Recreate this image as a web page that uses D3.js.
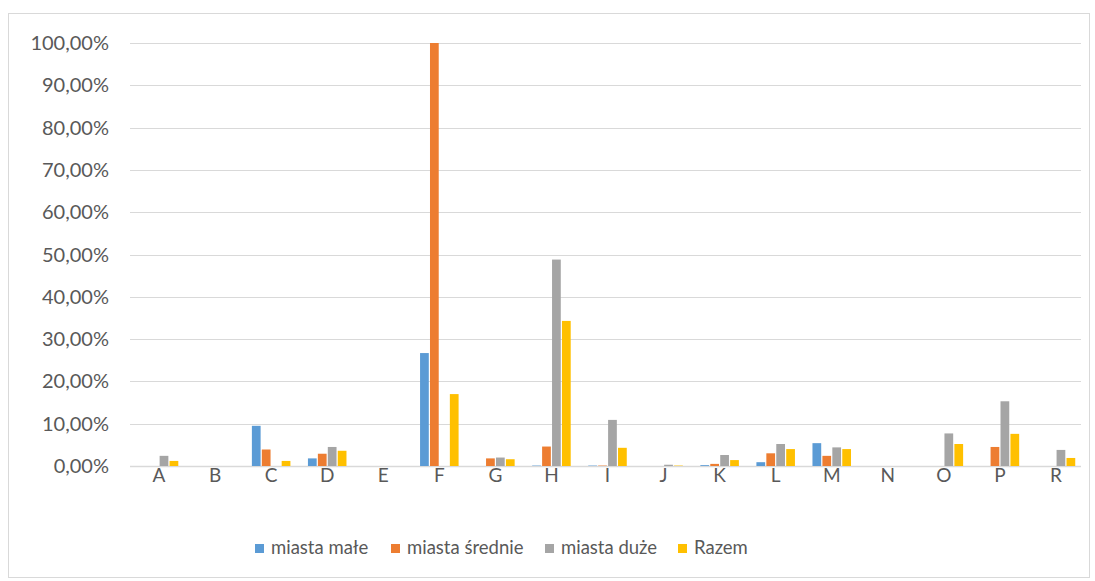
<!DOCTYPE html>
<html>
<head>
<meta charset="utf-8">
<script src="https://cdn.jsdelivr.net/npm/d3@7"></script>
<style>
  body { margin: 0; background: #fff; }
  text { font-family: Lato, "Open Sans", sans-serif; fill: #595959; }
</style>
</head>
<body>
<div id="chart"></div>
<script>
var width = 1095;
var height = 581;

// data (percent)
var categories = ['A','B','C','D','E','F','G','H','I','J','K','L','M','N','O','P','R'];
var seriesNames = ['miasta małe', 'miasta średnie', 'miasta duże', 'Razem'];
var colors = ['#5B9BD5', '#ED7D31', '#A5A5A5', '#FFC000'];
var male    = [0, 0, 9.5, 1.8, 0, 26.7, 0, 0.1, 0.1, 0, 0.2, 0.9, 5.4, 0, 0, 0, 0];
var srednie = [0, 0, 3.9, 2.9, 0, 100, 1.8, 4.6, 0.1, 0, 0.5, 3.0, 2.4, 0, 0, 4.5, 0];
var duze    = [2.4, 0, 0, 4.5, 0, 0, 2.0, 48.8, 10.9, 0.3, 2.6, 5.2, 4.4, 0, 7.7, 15.3, 3.8];
var razem   = [1.2, 0, 1.2, 3.6, 0, 17.0, 1.6, 34.3, 4.3, 0.1, 1.4, 4.0, 4.0, 0, 5.2, 7.6, 1.9];
var yTicks = [0, 10, 20, 30, 40, 50, 60, 70, 80, 90, 100];

var series = [male, srednie, duze, razem];

var plot = {left: 131, right: 1084, top: 43, bottom: 466};

var svg = d3.select('#chart')
            .append('svg')
            .attr('width', width)
            .attr('height', height);

// outer chart border
svg.append('rect')
   .attr('x', 8.5).attr('y', 13.5)
   .attr('width', 1081).attr('height', 564)
   .attr('fill', 'none')
   .attr('stroke', '#d9d9d9');

var x0 = d3.scaleBand()
           .domain(categories)
           .range([plot.left, plot.right])
           .paddingInner(0.27)
           .paddingOuter(0.135);

var x1 = d3.scaleBand()
           .domain(d3.range(series.length))
           .range([0, x0.bandwidth()])
           .padding(0.12);

var y = d3.scaleLinear()
          .domain([0, 100])
          .range([plot.bottom, plot.top]);

// gridlines
svg.append('g')
   .selectAll('line')
   .data(yTicks)
   .enter()
   .append('line')
   .attr('x1', 130)
   .attr('x2', 1081)
   .attr('y1', d => Math.round(y(d)) + 0.5)
   .attr('y2', d => Math.round(y(d)) + 0.5)
   .attr('stroke', '#d9d9d9')
   .attr('stroke-width', d => d === 0 ? 1.5 : 1);

// y labels
var fmt = d => d.toFixed(2).replace('.', ',') + '%';
svg.append('g')
   .selectAll('text')
   .data(yTicks)
   .enter()
   .append('text')
   .attr('x', 109)
   .attr('y', d => y(d))
   .attr('dy', '0.35em')
   .attr('text-anchor', 'end')
   .attr('font-size', 20)
   .text(fmt);

// x labels
svg.append('g')
   .selectAll('text')
   .data(categories)
   .enter()
   .append('text')
   .attr('x', d => x0(d) + x0.bandwidth() / 2)
   .attr('y', 482)
   .attr('text-anchor', 'middle')
   .attr('font-size', 19)
   .text(d => d);

// bars
var groups = svg.append('g')
   .selectAll('g')
   .data(categories)
   .enter()
   .append('g')
   .attr('transform', d => `translate(${x0(d)},0)`);

groups.selectAll('rect')
      .data((d, i) => series.map((s, k) => ({k: k, v: s[i]})))
      .enter()
      .filter(d => d.v > 0)
      .append('rect')
      .attr('x', d => x1(d.k))
      .attr('y', d => y(d.v))
      .attr('width', x1.bandwidth())
      .attr('height', d => plot.bottom - y(d.v))
      .attr('fill', d => colors[d.k]);

// legend
var legendX = [255, 391, 545, 678];
var legend = svg.append('g')
   .selectAll('g')
   .data(seriesNames)
   .enter()
   .append('g')
   .attr('transform', (d, i) => `translate(${legendX[i]},543)`);

legend.append('rect')
      .attr('width', 9).attr('height', 9)
      .attr('y', 1)
      .attr('fill', (d, i) => colors[i]);

legend.append('text')
      .attr('x', 16)
      .attr('y', 5)
      .attr('dy', '0.35em')
      .attr('font-size', 18.5)
      .text(d => d);
</script>
</body>
</html>
